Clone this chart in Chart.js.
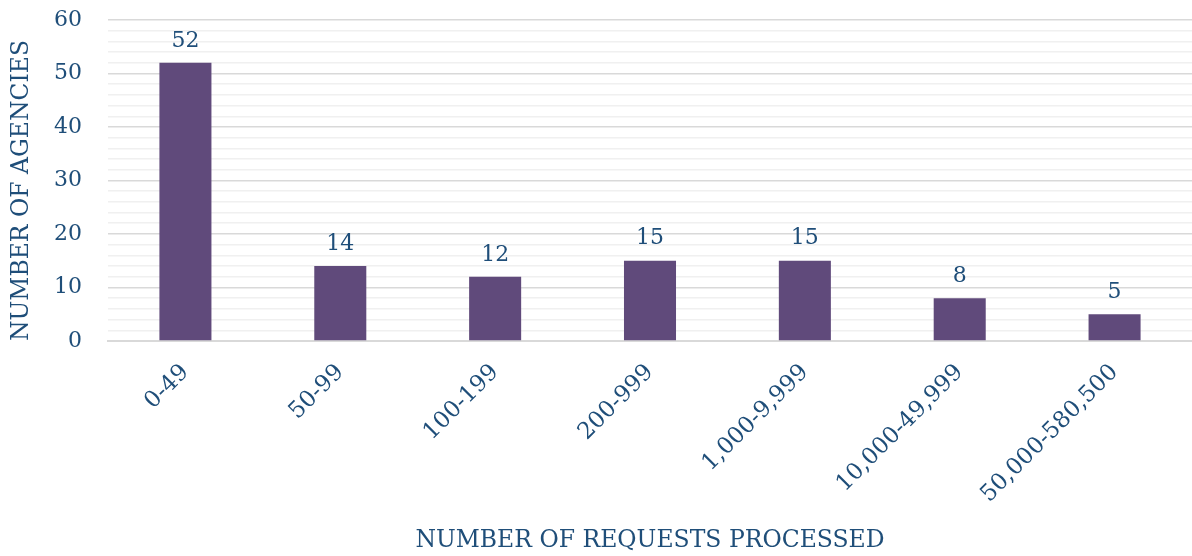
<!DOCTYPE html>
<html>
<head>
<meta charset="utf-8">
<script src="https://cdn.jsdelivr.net/npm/chart.js@4.4.1/dist/chart.umd.min.js"></script>
<style>
html,body{margin:0;padding:0;background:#fff;}
#wrap{width:1192px;height:556px;position:relative;}
</style>
</head>
<body>
<div id="wrap"><canvas id="c" width="1192" height="556"></canvas></div>
<script>
const categories = ["0-49","50-99","100-199","200-999","1,000-9,999","10,000-49,999","50,000-580,500"];
const agencies = [52,14,12,15,15,8,5];
const yMax = 60;
const yStep = 2;
const yLabelStep = 10;
const xTitle = "NUMBER OF REQUESTS PROCESSED";
const yTitle = "NUMBER OF AGENCIES";

const textColor = "#1F4E79";
const barColor = "#604A7B";
const fontFam = "'DejaVu Serif', 'Liberation Serif', serif";

const valueLabels = {
  id: 'valueLabels',
  afterDatasetsDraw(chart) {
    const {ctx} = chart;
    const meta = chart.getDatasetMeta(0);
    ctx.save();
    ctx.fillStyle = textColor;
    ctx.font = "22px " + fontFam;
    ctx.textAlign = 'center';
    ctx.textBaseline = 'bottom';
    meta.data.forEach((bar, i) => {
      ctx.fillText(String(agencies[i]), bar.x, bar.y - 11);
    });
    ctx.restore();
  }
};

new Chart(document.getElementById('c'), {
  type: 'bar',
  data: {
    labels: categories,
    datasets: [{
      data: agencies,
      backgroundColor: barColor,
      borderWidth: 0,
      barPercentage: 0.336,
      categoryPercentage: 1
    }]
  },
  options: {
    responsive: false,
    animation: false,
    devicePixelRatio: 1,
    layout: {padding: {top: 20, right: 0, left: 0, bottom: 0}},
    plugins: {legend: {display: false}, tooltip: {enabled: false}},
    scales: {
      x: {
        grid: {display: false, drawTicks: false},
        border: {display: true, color: '#d9d9d9', width: 2},
        ticks: {
          color: textColor,
          font: {family: fontFam, size: 23},
          minRotation: 45, maxRotation: 45,
          autoSkip: false,
          padding: 18
        },
        title: {
          display: true, text: xTitle, color: textColor,
          font: {family: fontFam, size: 23.5}, padding: {top: 0, bottom: 1}
        },
        afterFit(scale) {
          scale.height = 215;
          scale.paddingLeft = 0; scale.paddingRight = 0;
          scale.paddingTop = 0; scale.paddingBottom = 0;
        }
      },
      y: {
        min: 0, max: yMax,
        grid: {
          drawTicks: false,
          color: (c) => (c.tick && c.tick.value % yLabelStep === 0) ? '#d9d9d9' : '#f0f0f0',
          lineWidth: 1.6
        },
        border: {display: false},
        ticks: {
          stepSize: yStep,
          autoSkip: false,
          color: textColor,
          font: {family: fontFam, size: 22},
          padding: 26,
          callback: (v) => (v % yLabelStep === 0) ? String(v) : ''
        },
        title: {
          display: true, text: yTitle, color: textColor, align: 'start',
          font: {family: fontFam, size: 23.5}, padding: {top: 8, bottom: 0}
        },
        afterFit(scale) {
          scale.width = 108;
          scale.paddingTop = 0; scale.paddingBottom = 0;
          scale.paddingLeft = 0; scale.paddingRight = 0;
        }
      }
    }
  },
  plugins: [valueLabels]
});
</script>
</body>
</html>
